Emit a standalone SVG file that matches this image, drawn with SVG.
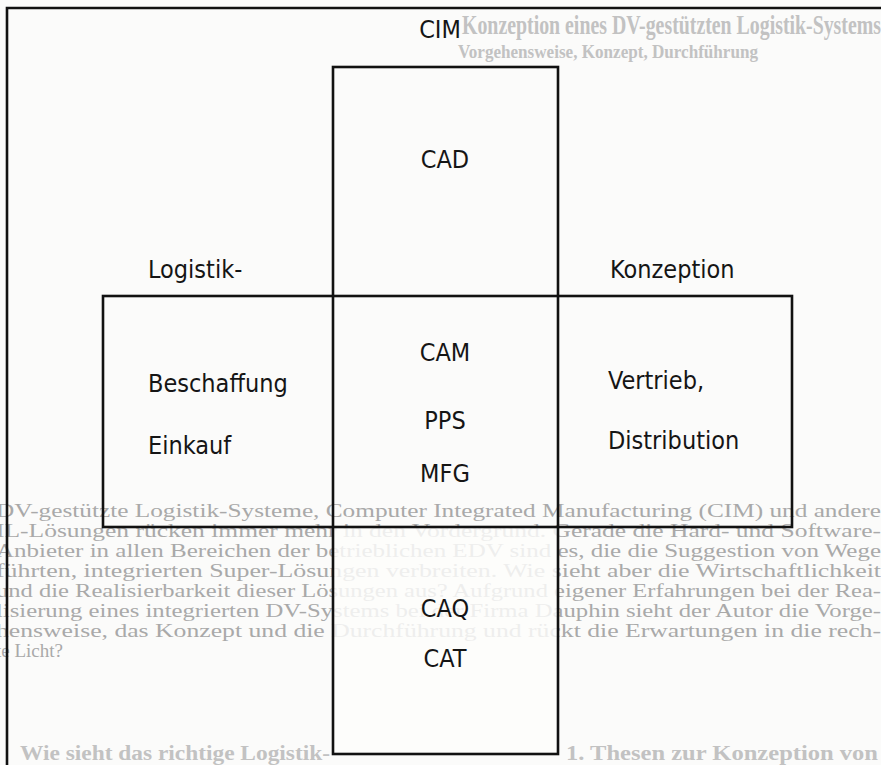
<svg xmlns="http://www.w3.org/2000/svg" width="881" height="765" viewBox="0 0 881 765">
<style>
.bg{font-family:"Liberation Serif","DejaVu Serif",serif;fill:#a9a9a9;font-size:19px}
.bgb{font-family:"Liberation Serif","DejaVu Serif",serif;fill:#c2c2c2;font-weight:bold}
.box{fill:none;stroke:#111;stroke-width:2.6}
.lbl{font-family:"DejaVu Sans Condensed","DejaVu Sans",sans-serif;font-size:25px;fill:#151515}
.c{text-anchor:middle}
</style>
<rect width="881" height="765" fill="#fbfbfa"/>
<g id="background-text">
<text class="bgb" x="462" y="34" font-size="27" textLength="419" lengthAdjust="spacingAndGlyphs">Konzeption eines DV-gestützten Logistik-Systems</text>
<text class="bgb" x="458" y="58" font-size="18" textLength="300" lengthAdjust="spacingAndGlyphs">Vorgehensweise, Konzept, Durchführung</text>
<text class="bg" x="-4" y="517" textLength="885" lengthAdjust="spacingAndGlyphs">DV-gestützte Logistik-Systeme, Computer Integrated Manufacturing (CIM) und andere</text>
<text class="bg" x="-4" y="537" textLength="885" lengthAdjust="spacingAndGlyphs">IL-Lösungen rücken immer mehr in den Vordergrund. Gerade die Hard- und Software-</text>
<text class="bg" x="-4" y="557" textLength="885" lengthAdjust="spacingAndGlyphs">Anbieter in allen Bereichen der betrieblichen EDV sind es, die die Suggestion von Wege</text>
<text class="bg" x="-4" y="577" textLength="885" lengthAdjust="spacingAndGlyphs">führten, integrierten Super-Lösungen verbreiten. Wie sieht aber die Wirtschaftlichkeit</text>
<text class="bg" x="-4" y="597" textLength="885" lengthAdjust="spacingAndGlyphs">und die Realisierbarkeit dieser Lösungen aus? Aufgrund eigener Erfahrungen bei der Rea-</text>
<text class="bg" x="-4" y="617" textLength="885" lengthAdjust="spacingAndGlyphs">lisierung eines integrierten DV-Systems bei der Firma Dauphin sieht der Autor die Vorge-</text>
<text class="bg" x="-4" y="637" textLength="885" lengthAdjust="spacingAndGlyphs">hensweise, das Konzept und die Durchführung und rückt die Erwartungen in die rech-</text>
<text class="bg" x="-4" y="657">te Licht?</text>
<text class="bgb" x="20" y="760" font-size="20" textLength="310" lengthAdjust="spacingAndGlyphs">Wie sieht das richtige Logistik-</text>
<text class="bgb" x="566" y="760" font-size="20" textLength="312" lengthAdjust="spacingAndGlyphs">1. Thesen zur Konzeption von</text>
</g>
<g id="frame"><path class="box" d="M7 765 V8 H881" stroke-width="2"/></g>
<g id="connectors"></g>
<g id="cim-column">
<rect x="334" y="527" width="223" height="226" fill="#fcfcfb" opacity="0.82"/>
<rect class="box" x="333" y="67" width="225" height="687"/>
</g>
<g id="logistik-row">
<rect class="box" x="103" y="296" width="689" height="231"/>
</g>
<g id="labels">
<text class="lbl c" x="440" y="38">CIM</text>
<text class="lbl c" x="445" y="168">CAD</text>
<text class="lbl" x="148" y="278">Logistik-</text>
<text class="lbl" x="610" y="278">Konzeption</text>
<text class="lbl c" x="445" y="361">CAM</text>
<text class="lbl" x="148" y="392">Beschaffung</text>
<text class="lbl" x="608" y="389">Vertrieb,</text>
<text class="lbl c" x="445" y="429">PPS</text>
<text class="lbl" x="148" y="454">Einkauf</text>
<text class="lbl" x="608" y="449">Distribution</text>
<text class="lbl c" x="445" y="482">MFG</text>
<text class="lbl c" x="445" y="617">CAQ</text>
<text class="lbl c" x="445" y="667">CAT</text>
</g>
</svg>
